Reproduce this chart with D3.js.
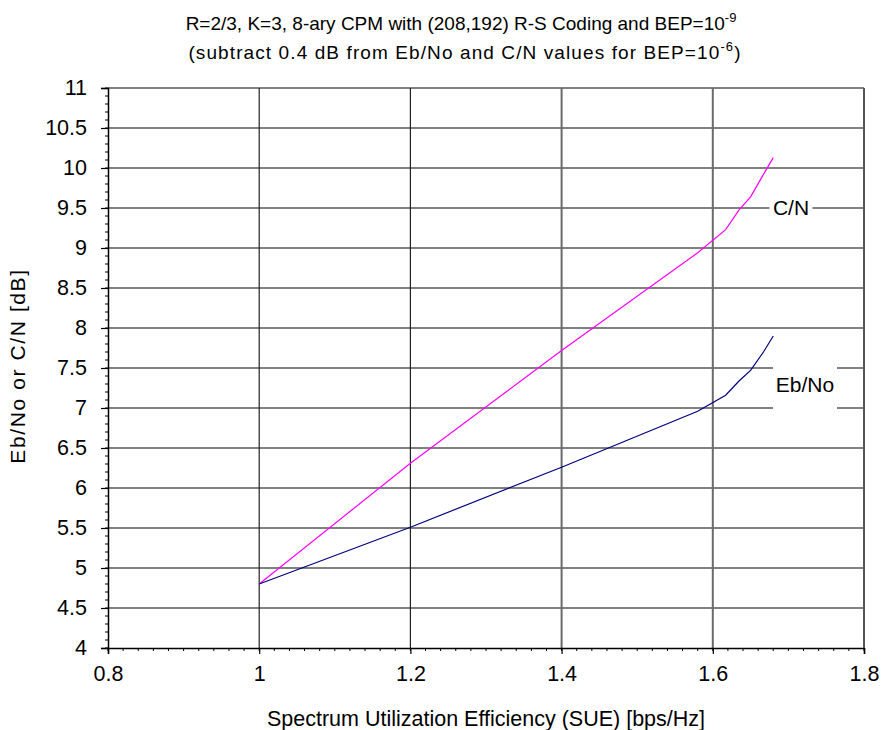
<!DOCTYPE html>
<html>
<head>
<meta charset="utf-8">
<script src="https://cdn.jsdelivr.net/npm/d3@7"></script>
<style>
    body { margin: 0; background: #fff; }
    svg text { font-family: Arial, "Liberation Sans", sans-serif; fill: #000; }
</style>
</head>
<body>
<div id="chart"></div>
<script>
// SUE values [bps/Hz] where the curves were sampled
var sue = [1.0, 1.2, 1.4, 1.58, 1.617, 1.635, 1.65, 1.667, 1.68];

// required C/N [dB] at BEP = 1e-9
var cnValues = [4.8, 6.31, 7.72, 8.94, 9.23, 9.48, 9.64, 9.92, 10.13];

// required Eb/No [dB] at BEP = 1e-9
var ebnoValues = [4.8, 5.51, 6.26, 6.96, 7.16, 7.34, 7.47, 7.70, 7.90];

var xTicks = [0.8, 1.0, 1.2, 1.4, 1.6, 1.8];
var yTicks = [4, 4.5, 5, 5.5, 6, 6.5, 7, 7.5, 8, 8.5, 9, 9.5, 10, 10.5, 11];

var WIDTH = 881;
var HEIGHT = 730;
var PLOT = { left: 108, right: 864, top: 88, bottom: 648 };

var svg = d3.select("#chart").append("svg")
    .attr("width", WIDTH)
    .attr("height", HEIGHT);

var x = d3.scaleLinear().domain([0.8, 1.8]).range([PLOT.left, PLOT.right]);
var y = d3.scaleLinear().domain([4, 11]).range([PLOT.bottom, PLOT.top]);

// Gridlines
svg.append("g").selectAll("line").data(yTicks.slice(1)).enter().append("line")
    .attr("x1", PLOT.left).attr("x2", PLOT.right)
    .attr("y1", function(d) { return y(d); })
    .attr("y2", function(d) { return y(d); })
    .attr("stroke", "#808080")
    .attr("stroke-width", 2);

svg.append("g").selectAll("line").data(xTicks.slice(1)).enter().append("line")
    .attr("x1", function(d) { return x(d); })
    .attr("x2", function(d) { return x(d); })
    .attr("y1", PLOT.top).attr("y2", PLOT.bottom)
    .attr("stroke", function(d, i) { return i < 2 ? "#222" : "#6a6a6a"; })
    .attr("stroke-width", function(d, i) { return i < 2 ? 1.2 : 2; });

// Minor ticks first so major ticks draw on top
var xMinor = d3.range(0.8, 1.8001, 0.02);
svg.append("g").selectAll("line").data(xMinor).enter().append("line")
    .attr("x1", function(d) { return x(d); })
    .attr("x2", function(d) { return x(d); })
    .attr("y1", PLOT.bottom).attr("y2", PLOT.bottom + 3)
    .attr("stroke", "#000");

var yMinor = d3.range(4, 11.0001, 0.1);
svg.append("g").selectAll("line").data(yMinor).enter().append("line")
    .attr("x1", PLOT.left - 3).attr("x2", PLOT.left)
    .attr("y1", function(d) { return y(d); })
    .attr("y2", function(d) { return y(d); })
    .attr("stroke", "#000");

// Axes
var xAxis = d3.axisBottom(x).tickValues(xTicks).tickSize(6).tickPadding(12)
    .tickFormat(d3.format("~g"));
var gx = svg.append("g")
    .attr("transform", "translate(0," + PLOT.bottom + ")")
    .call(xAxis);

var yAxis = d3.axisLeft(y).tickValues(yTicks).tickSize(7).tickPadding(14)
    .tickFormat(d3.format("~g"));
var gy = svg.append("g")
    .attr("transform", "translate(" + PLOT.left + ",0)")
    .call(yAxis);

[gx, gy].forEach(function(g) {
    g.select(".domain").attr("stroke", "#000").attr("stroke-width", 1.5);
    g.selectAll(".tick line").attr("stroke", "#000").attr("stroke-width", 1.2);
    g.selectAll(".tick text")
        .attr("font-family", "Arial, 'Liberation Sans', sans-serif")
        .attr("font-size", 21.5);
});

// Right border of the plot area
svg.append("line")
    .attr("x1", PLOT.right).attr("x2", PLOT.right)
    .attr("y1", PLOT.top).attr("y2", PLOT.bottom)
    .attr("stroke", "#555").attr("stroke-width", 2);

// Curves
var line = d3.line()
    .x(function(d) { return x(d[0]); })
    .y(function(d) { return y(d[1]); });

svg.append("path")
    .datum(d3.zip(sue, cnValues))
    .attr("d", line)
    .attr("fill", "none")
    .attr("stroke", "#ff00ff")
    .attr("stroke-width", 1.2);

svg.append("path")
    .datum(d3.zip(sue, ebnoValues))
    .attr("d", line)
    .attr("fill", "none")
    .attr("stroke", "#000080")
    .attr("stroke-width", 1.2);

// Curve labels (boxed in white so they break the gridlines)
function curveLabel(text, cx, cy, w, h) {
    svg.append("rect")
        .attr("x", cx - w / 2).attr("y", cy - h / 2)
        .attr("width", w).attr("height", h)
        .attr("fill", "#fff");
    svg.append("text")
        .attr("x", cx).attr("y", cy + 7.5)
        .attr("text-anchor", "middle")
        .attr("font-size", 21)
        .text(text);
}
curveLabel("C/N", 791, 207, 43, 36);
curveLabel("Eb/No", 805, 384, 64, 50);

// Titles
var title = svg.append("text")
    .attr("x", 461).attr("y", 30)
    .attr("text-anchor", "middle")
    .attr("font-size", 19);
title.append("tspan").text("R=2/3, K=3, 8-ary CPM with (208,192) R-S Coding and BEP=10");
title.append("tspan").attr("dy", -8).attr("font-size", 13).text("-9");

var title2 = svg.append("text")
    .attr("x", 465).attr("y", 59)
    .attr("text-anchor", "middle")
    .attr("font-size", 19)
    .attr("letter-spacing", 1.1);
title2.append("tspan").text("(subtract 0.4 dB from Eb/No and C/N values for BEP=10");
title2.append("tspan").attr("dy", -8).attr("font-size", 13).text("-6");
title2.append("tspan").attr("dy", 8).text(")");

svg.append("text")
    .attr("x", 486).attr("y", 726)
    .attr("text-anchor", "middle")
    .attr("font-size", 21.5)
    .text("Spectrum Utilization Efficiency (SUE) [bps/Hz]");

svg.append("text")
    .attr("transform", "translate(25,366) rotate(-90)")
    .attr("text-anchor", "middle")
    .attr("font-size", 21)
    .attr("letter-spacing", 1.6)
    .text("Eb/No or C/N [dB]");
</script>
</body>
</html>
